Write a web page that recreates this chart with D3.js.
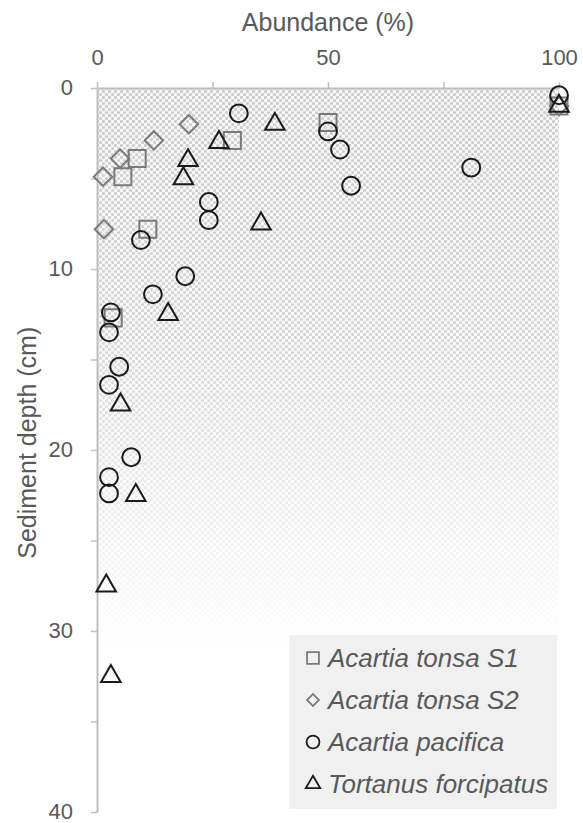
<!DOCTYPE html>
<html>
<head>
<meta charset="utf-8">
<script src="https://cdn.jsdelivr.net/npm/d3@7"></script>
<style>
  body { margin: 0; background: #fff; }
  svg { font-family: "Liberation Sans", Arial, sans-serif; }
</style>
</head>
<body>
<div id="viz"></div>
<script>
// series values: [abundance %, depth cm]
var tonsaS1 = [[50, 1.9], [29.3, 2.9], [8.7, 3.9], [5.6, 4.9], [11, 7.8], [3.5, 12.7], [100, 1]];
var tonsaS2 = [[19.9, 2], [12.3, 2.9], [5, 3.9], [1.3, 4.9], [1.5, 7.8], [100, 1]];
var pacifica = [[100, 0.4], [30.7, 1.4], [50, 2.4], [52.6, 3.4], [81, 4.4], [55, 5.4],
  [24.2, 6.3], [24.2, 7.3], [9.5, 8.4], [19.1, 10.4], [12.1, 11.4], [3, 12.4],
  [2.6, 13.5], [4.8, 15.4], [2.6, 16.4], [7.4, 20.4], [2.6, 21.5], [2.6, 22.4]];
var tortanus = [[100, 1], [38.5, 2], [26.4, 3], [19.7, 4], [18.7, 5], [35.5, 7.5],
  [15.4, 12.5], [5.1, 17.5], [8.4, 22.5], [2, 27.5], [3, 32.5]];

var seriesNames = ["Acartia tonsa S1", "Acartia tonsa S2", "Acartia pacifica", "Tortanus forcipatus"];
var xTicks = [0, 50, 100];
var xMinor = [25, 75];
var yTicks = [0, 10, 20, 30, 40];
var yMinor = [5, 15, 25, 35];

var W = 583, H = 823;
var plotLeft = 97, plotRight = 559, plotTop = 88, plotBottom = 812;

var svg = d3.select("#viz").append("svg")
  .attr("width", W)
  .attr("height", H);

var x = d3.scaleLinear().domain([0, 100]).range([plotLeft, plotRight]);
var y = d3.scaleLinear().domain([0, 40]).range([plotTop, plotBottom]);

// dotted background that fades out with depth
var defs = svg.append("defs");
var pat = defs.append("pattern")
  .attr("id", "dots")
  .attr("patternUnits", "userSpaceOnUse")
  .attr("width", 6).attr("height", 6);
pat.append("rect").attr("width", 6).attr("height", 6).attr("fill", "#f7f7f7");
pat.append("circle").attr("cx", 1.5).attr("cy", 1.5).attr("r", 1.6).attr("fill", "#cccccc");
pat.append("circle").attr("cx", 4.5).attr("cy", 4.5).attr("r", 1.6).attr("fill", "#cccccc");

var grad = defs.append("linearGradient")
  .attr("id", "fade")
  .attr("x1", 0).attr("y1", 0).attr("x2", 0).attr("y2", 1);
grad.append("stop").attr("offset", "0").attr("stop-color", "#fff").attr("stop-opacity", 1);
grad.append("stop").attr("offset", "0.45").attr("stop-color", "#fff").attr("stop-opacity", 0.8);
grad.append("stop").attr("offset", "1").attr("stop-color", "#fff").attr("stop-opacity", 0);

defs.append("mask").attr("id", "fadeMask")
  .attr("maskContentUnits", "userSpaceOnUse")
  .append("rect")
  .attr("x", x(0)).attr("y", y(0))
  .attr("width", x(100) - x(0)).attr("height", y(31) - y(0))
  .attr("fill", "url(#fade)");

svg.append("rect")
  .attr("x", x(0)).attr("y", y(0))
  .attr("width", x(100) - x(0)).attr("height", y(31) - y(0))
  .attr("fill", "url(#dots)")
  .attr("mask", "url(#fadeMask)");

// axes
var axisColor = "#bfbfbf", textColor = "#595959";

var xAxis = svg.append("g")
  .attr("transform", "translate(0," + y(0) + ")")
  .call(d3.axisTop(x).tickValues(xTicks.concat(xMinor)).tickSize(6).tickSizeOuter(0)
    .tickFormat(function(d) { return xTicks.indexOf(d) >= 0 ? d : ""; }));
var yAxis = svg.append("g")
  .attr("transform", "translate(" + x(0) + ",0)")
  .call(d3.axisLeft(y).tickValues(yTicks.concat(yMinor)).tickSize(6).tickSizeOuter(0)
    .tickFormat(function(d) { return yTicks.indexOf(d) >= 0 ? d : ""; }));

[xAxis, yAxis].forEach(function(a) {
  a.select(".domain").attr("stroke", axisColor).attr("stroke-width", 2);
  a.selectAll(".tick line").attr("stroke", axisColor).attr("stroke-width", 1.5);
  a.selectAll(".tick text").attr("fill", textColor).style("font-size", "22px");
});
xAxis.selectAll(".tick text").attr("y", -23).attr("dy", 0);
yAxis.selectAll(".tick text").attr("x", -24).attr("dy", "0.3em");

svg.append("text")
  .attr("x", x(50)).attr("y", 31)
  .attr("text-anchor", "middle")
  .attr("fill", textColor)
  .style("font-size", "25px")
  .text("Abundance (%)");

svg.append("text")
  .attr("transform", "translate(36," + y(19.6) + ") rotate(-90)")
  .attr("text-anchor", "middle")
  .attr("fill", textColor)
  .style("font-size", "25px")
  .text("Sediment depth (cm)");

// markers
var styles = [
  {data: tonsaS1, type: d3.symbolSquare, size: 290, rot: 0, color: "#7a7a7a"},
  {data: tonsaS2, type: d3.symbolSquare, size: 170, rot: 45, color: "#7a7a7a"},
  {data: pacifica, type: d3.symbolCircle, size: 250, rot: 0, color: "#1a1a1a"},
  {data: tortanus, type: d3.symbolTriangle, size: 165, rot: 0, color: "#1a1a1a"}
];

styles.forEach(function(s) {
  svg.append("g").selectAll("path")
    .data(s.data)
    .enter().append("path")
    .attr("d", d3.symbol().type(s.type).size(s.size))
    .attr("transform", function(d) {
      return "translate(" + x(d[0]) + "," + y(d[1]) + ") rotate(" + s.rot + ")";
    })
    .attr("fill", "none")
    .attr("stroke", s.color)
    .attr("stroke-width", 2);
});

// legend
var lg = svg.append("g").attr("transform", "translate(289,635)");
lg.append("rect")
  .attr("width", 268).attr("height", 174)
  .attr("fill", "#f0f0f0");

var legendSizes = [140, 70, 130, 90];
seriesNames.forEach(function(name, i) {
  var s = styles[i];
  var cy = 23 + i * 42;
  lg.append("path")
    .attr("d", d3.symbol().type(s.type).size(legendSizes[i]))
    .attr("transform", "translate(24," + cy + ") rotate(" + s.rot + ")")
    .attr("fill", "none")
    .attr("stroke", s.color)
    .attr("stroke-width", 1.8);
  lg.append("text")
    .attr("x", 39).attr("y", cy)
    .attr("dy", "0.36em")
    .attr("fill", textColor)
    .style("font-size", "26px")
    .style("font-style", "italic")
    .text(name);
});
</script>
</body>
</html>
